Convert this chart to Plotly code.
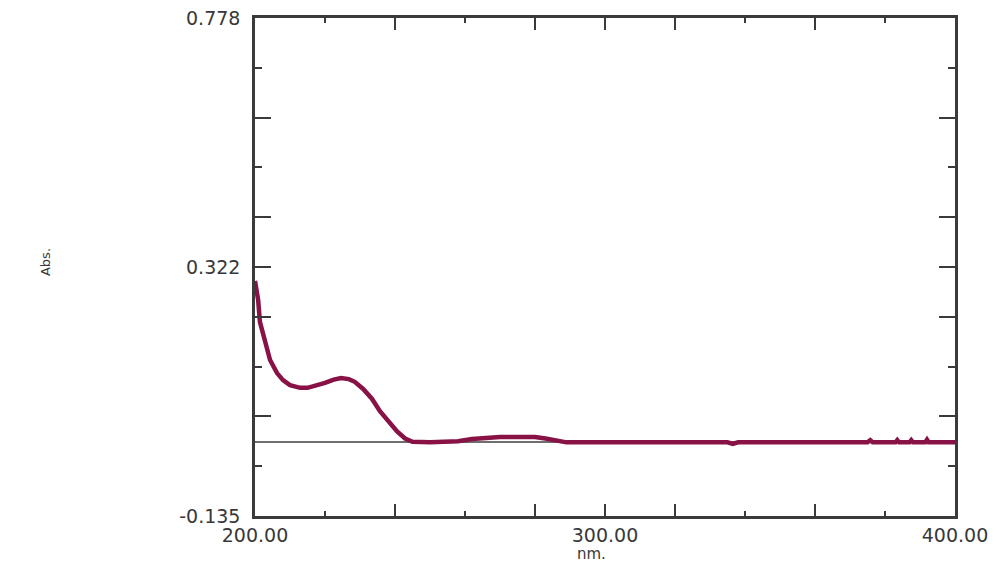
import plotly.graph_objects as go

# === Spectrum (nm vs Abs.) ===
wavelength = [200.0, 200.9, 201.4, 202.9, 204.3, 206.3, 208.0, 210.0, 212.9, 215.0,
              217.1, 220.0, 222.5, 224.6, 226.8, 228.5, 230.9, 233.4, 235.7, 238.6,
              240.6, 242.9, 245.0, 250.0, 256.0, 258.0, 262.0, 266.0, 270.0, 275.0,
              280.0, 283.0, 286.0, 289.0, 300.0, 318.0, 319.5, 321.0, 335.0, 336.5,
              338.0, 375.0, 375.8, 376.5, 383.0, 383.5, 384.0, 387.0, 387.5, 388.0,
              391.5, 392.0, 392.5, 400.0]
absorbance = [0.296, 0.261, 0.221, 0.182, 0.151, 0.127, 0.114, 0.105, 0.100, 0.100,
              0.103, 0.109, 0.115, 0.118, 0.116, 0.111, 0.098, 0.080, 0.057, 0.035,
              0.020, 0.007, 0.001, 0.000, 0.000, 0.002, 0.006, 0.009, 0.010, 0.010,
              0.010, 0.007, 0.003, 0.000, 0.000, 0.000, -0.002, 0.000, 0.000, -0.003,
              0.000, 0.000, 0.004, 0.000, 0.000, 0.004, 0.000, 0.000, 0.004, 0.000,
              0.000, 0.005, 0.000, 0.000]

# axis settings
x_range = [200, 400]
y_range = [-0.135, 0.778]
x_labels = {200: "200.00", 300: "300.00", 400: "400.00"}
y_step = (y_range[1] - y_range[0]) / 10
y_labelled = {0: "0.778", 5: "0.322", 10: "-0.135"}

axis_col = "#3a3a3a"
text_col = "#383838"
font_fam = "DejaVu Sans"

# x ticks: long ones every 40 nm, short ones in between
x_major = [200, 240, 280, 300, 320, 360, 400]
x_minor = [220, 260, 340, 380]

# y ticks: long on even steps, short on odd ones (plus the labelled ones)
y_major_k = [0, 2, 4, 5, 6, 8, 10]
y_minor_k = [1, 3, 7, 9]
y_major = [y_range[1] - k * y_step for k in y_major_k]
y_minor = [y_range[1] - k * y_step for k in y_minor_k]

fig = go.Figure()
fig.add_trace(go.Scatter(
    x=wavelength, y=absorbance, mode="lines",
    line=dict(color="#881245", width=4.5),
    showlegend=False,
))

# the page body adds an ~8px offset, so size the figure a little smaller
fig.update_layout(
    width=1000, height=555,
    margin=dict(l=247, r=53, t=10, b=47),
    plot_bgcolor="white", paper_bgcolor="white",
    font=dict(family=font_fam, size=18, color=text_col),
)

fig.update_xaxes(
    range=x_range, showgrid=False, automargin=False,
    showline=True, linecolor=axis_col, linewidth=2.5, mirror="ticks",
    tickmode="array", tickvals=x_major,
    ticktext=[x_labels.get(v, "") for v in x_major],
    ticks="inside", ticklen=12, tickwidth=2, tickcolor=axis_col,
    minor=dict(tickmode="array", tickvals=x_minor, ticks="inside",
               ticklen=5, tickwidth=2, tickcolor=axis_col),
    tickfont=dict(size=19),
    ticklabelstandoff=0, ticklabeloverflow="allow",
    zeroline=False,
)

fig.update_yaxes(
    range=y_range, showgrid=False, automargin=False,
    showline=True, linecolor=axis_col, linewidth=2.5, mirror="ticks",
    tickmode="array", tickvals=y_major,
    ticktext=[y_labelled.get(k, "") for k in y_major_k],
    ticks="inside", ticklen=16, tickwidth=2, tickcolor=axis_col,
    minor=dict(tickmode="array", tickvals=y_minor, ticks="inside",
               ticklen=7, tickwidth=2, tickcolor=axis_col),
    tickfont=dict(size=19),
    ticklabelstandoff=8, ticklabeloverflow="allow",
    zeroline=True, zerolinecolor="#6e6e6e", zerolinewidth=2,
)

# axis titles placed where the instrument printout puts them
fig.add_annotation(text="nm.", xref="paper", yref="paper", x=0.48, y=-0.077,
                   showarrow=False, font=dict(size=15, color=text_col),
                   xanchor="center", yanchor="middle")
fig.add_annotation(text="Abs.", xref="paper", yref="paper", x=-0.30, y=0.51,
                   showarrow=False, textangle=-90,
                   font=dict(size=13, color=text_col),
                   xanchor="center", yanchor="middle")

fig.write_html("out.html")
